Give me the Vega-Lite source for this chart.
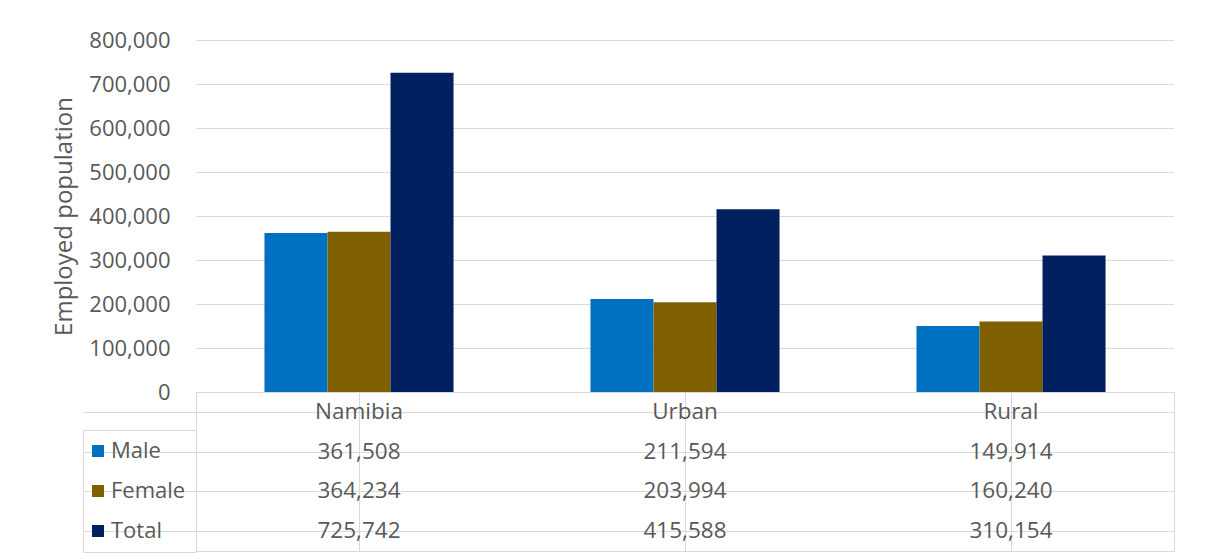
{
  "$schema": "https://vega.github.io/schema/vega-lite/v6.json",
  "padding": {"left": 52, "top": 29, "right": 30, "bottom": 5},
  "background": "white",
  "bounds": "flush",
  "spacing": 0,
  "datasets": {
    "emp": [
      {"region": "Namibia", "series": "Male", "value": 361508},
      {"region": "Namibia", "series": "Female", "value": 364234},
      {"region": "Namibia", "series": "Total", "value": 725742},
      {"region": "Urban", "series": "Male", "value": 211594},
      {"region": "Urban", "series": "Female", "value": 203994},
      {"region": "Urban", "series": "Total", "value": 415588},
      {"region": "Rural", "series": "Male", "value": 149914},
      {"region": "Rural", "series": "Female", "value": 160240},
      {"region": "Rural", "series": "Total", "value": 310154}
    ],
    "regions": [
      {"region": "Namibia", "series": "hdr"},
      {"region": "Urban", "series": "hdr"},
      {"region": "Rural", "series": "hdr"}
    ]
  },
  "config": {
    "font": "Open Sans",
    "axis": {"labelFont": "Open Sans", "titleFont": "Open Sans", "labelColor": "#595959", "titleColor": "#595959", "gridColor": "#d9d9d9"},
    "legend": {"labelFont": "Open Sans"}
  },
  "vconcat": [
    {
      "width": 978,
      "height": 352,
      "data": {"name": "emp"},
      "view": {"stroke": null},
      "mark": {"type": "bar"},
      "encoding": {
        "x": {"field": "region", "type": "nominal", "sort": ["Namibia", "Urban", "Rural"], "scale": {"paddingInner": 0.42, "paddingOuter": 0.21}, "axis": null},
        "xOffset": {"field": "series", "type": "nominal", "sort": ["Male", "Female", "Total"]},
        "y": {"field": "value", "type": "quantitative", "scale": {"domain": [0, 800000], "nice": false},
          "axis": {"values": [0, 100000, 200000, 300000, 400000, 500000, 600000, 700000, 800000], "format": ",.0f", "title": "Employed population", "domain": false, "ticks": false, "labelPadding": 26, "titlePadding": 12, "labelFontSize": 22, "titleFontSize": 24, "titleFontWeight": "normal", "gridColor": "#d9d9d9"}},
        "color": {"field": "series", "type": "nominal", "scale": {"domain": ["Male", "Female", "Total"], "range": ["#0070C0", "#7F6000", "#002060"]},
          "legend": {"orient": "none", "legendX": -113, "legendY": 390, "title": null, "symbolType": "square", "symbolSize": 144, "symbolStrokeWidth": 0, "symbolOffset": -6, "labelFontSize": 22, "labelColor": "#595959", "rowPadding": 18, "labelOffset": 2, "padding": 10, "strokeColor": "#d9d9d9"}}
      }
    },
    {
      "width": 978,
      "height": 159,
      "view": {"stroke": "#d9d9d9"},
      "layer": [
        {
          "data": {"name": "emp"},
          "mark": {"type": "text", "fontSize": 22.5, "color": "#595959", "font": "Open Sans"},
          "encoding": {
            "x": {"field": "region", "type": "nominal", "sort": ["Namibia", "Urban", "Rural"], "scale": {"paddingInner": 0, "paddingOuter": 0},
              "axis": {"labels": false, "ticks": false, "domain": false, "grid": true, "bandPosition": 1, "gridColor": "#d9d9d9", "title": null}},
            "y": {"field": "series", "type": "nominal", "scale": {"domain": ["hdr", "Male", "Female", "Total"], "paddingInner": 0, "paddingOuter": 0},
              "axis": {"labels": false, "domain": false, "ticks": true, "tickSize": 113, "tickColor": "#d9d9d9", "bandPosition": 1, "grid": true, "gridColor": "#d9d9d9", "title": null}},
            "text": {"field": "value", "type": "quantitative", "format": ",.0f"}
          }
        },
        {
          "data": {"name": "regions"},
          "mark": {"type": "text", "fontSize": 22.5, "color": "#595959", "font": "Open Sans"},
          "encoding": {
            "x": {"field": "region", "type": "nominal", "sort": ["Namibia", "Urban", "Rural"]},
            "y": {"field": "series", "type": "nominal"},
            "text": {"field": "region", "type": "nominal"}
          }
        }
      ]
    }
  ]
}
